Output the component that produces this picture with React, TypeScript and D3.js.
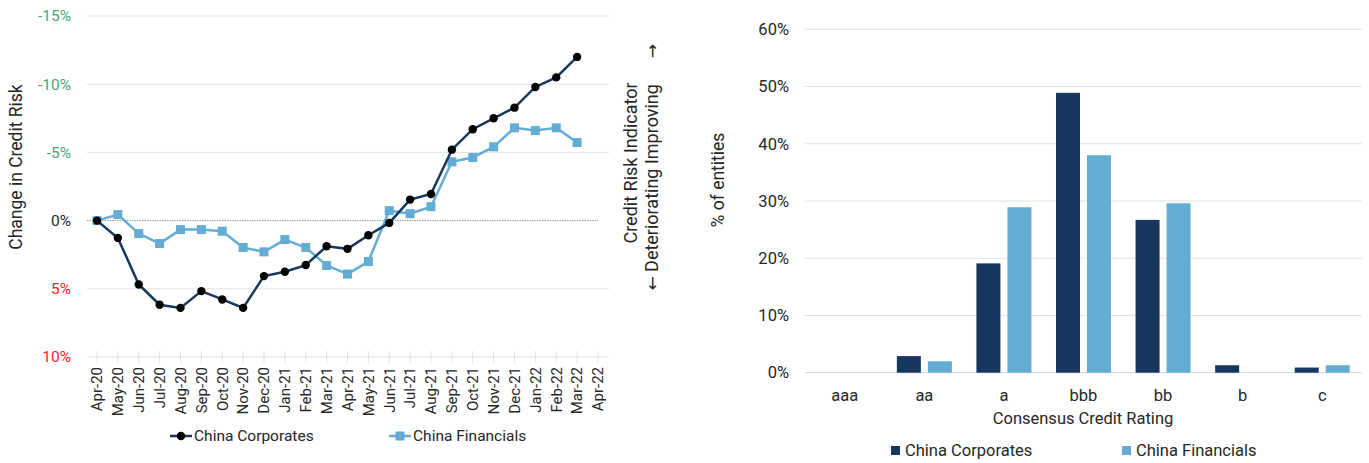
import React from "react";
import * as d3 from "d3";

const months = [
  "Apr-20","May-20","Jun-20","Jul-20","Aug-20","Sep-20","Oct-20","Nov-20","Dec-20",
  "Jan-21","Feb-21","Mar-21","Apr-21","May-21","Jun-21","Jul-21","Aug-21","Sep-21",
  "Oct-21","Nov-21","Dec-21","Jan-22","Feb-22","Mar-22","Apr-22",
];
const corporates = [0, 1.27, 4.68, 6.17, 6.4, 5.17, 5.78, 6.4, 4.07, 3.75, 3.26, 1.88, 2.07, 1.07, 0.17, -1.54, -1.95, -5.2, -6.7, -7.5, -8.28, -9.8, -10.5, -12.0];
const financials = [0, -0.44, 0.95, 1.68, 0.66, 0.66, 0.78, 1.97, 2.29, 1.39, 1.97, 3.29, 3.92, 3.0, -0.73, -0.51, -1.02, -4.31, -4.63, -5.41, -6.8, -6.6, -6.8, -5.72];
const leftTicks = [-15, -10, -5, 0, 5, 10];

const ratings = ["aaa", "aa", "a", "bbb", "bb", "b", "c"];
const corpShare = [0, 2.9, 19.1, 48.9, 26.7, 1.3, 0.9];
const finShare = [0, 2.0, 28.9, 38.0, 29.6, 0, 1.3];
const rightTicks = [0, 10, 20, 30, 40, 50, 60];
const seriesNames = ["China Corporates", "China Financials"];

const NAVY = "#17375e";
const LIGHT = "#63acd4";
const GRID = "#e2e2e2";
const TEXT = "#262626";
const FONT = "Roboto, 'Noto Sans', sans-serif";

export default function App() {
  // Left chart
  const xL = d3.scalePoint<string>().domain(months).range([97, 598]);
  const yL = d3.scaleLinear().domain([-15, 10]).range([16, 357]);
  const lineGen = d3
    .line<number>()
    .x((_, i) => xL(months[i]) as number)
    .y((d) => yL(d));
  const tickColor = (t: number) => (t < 0 ? "#3fa874" : t > 0 ? "#f5222d" : TEXT);
  const pct = (t: number) => `${t}%`;

  // Right chart
  const x0 = d3.scaleBand<string>().domain(ratings).range([805, 1362]).padding(0);
  const groupW = 55;
  const x1 = d3.scaleBand<string>().domain(seriesNames).range([0, groupW]).paddingInner(0.226);
  const yR = d3.scaleLinear().domain([0, 60]).range([372.7, 29.3]);
  const barData = [corpShare, finShare];
  const barColors = [NAVY, LIGHT];

  return (
    <svg
      width={1369}
      height={463}
      style={{ position: "absolute", left: 0, top: 0, background: "#fff" }}
      fontFamily={FONT}
    >
      {/* ---------- LEFT CHART ---------- */}
      <g>
        {leftTicks.map((t) =>
          t === 0 ? null : (
            <line key={t} x1={87} x2={609} y1={yL(t)} y2={yL(t)} stroke={GRID} strokeWidth={1} />
          )
        )}
        <line x1={87} x2={598} y1={yL(0)} y2={yL(0)} stroke="#9a9a9a" strokeWidth={1} strokeDasharray="1.5,1" />
        {months.map((m) => (
          <line key={m} x1={xL(m)} x2={xL(m)} y1={yL(10) - 6} y2={yL(10) + 6} stroke={GRID} strokeWidth={1} />
        ))}
        {leftTicks.map((t) => (
          <text key={t} x={71} y={yL(t)} dy="0.35em" textAnchor="end" fontSize={15.5} fill={tickColor(t)}>
            {pct(t)}
          </text>
        ))}
        {months.map((m) => (
          <text
            key={m}
            transform={`translate(${xL(m)},367) rotate(-90)`}
            dy="0.35em"
            textAnchor="end"
            fontSize={15}
            fill={TEXT}
          >
            {m}
          </text>
        ))}
        <text transform="translate(16,167) rotate(-90)" dy="0.35em" textAnchor="middle" fontSize={17.5} fill={TEXT}>
          Change in Credit Risk
        </text>
        <text transform="translate(631,163) rotate(-90)" dy="0.35em" textAnchor="middle" fontSize={18} fill={TEXT}>
          Credit Risk Indicator
        </text>
        <text transform="translate(652,178) rotate(-90)" dy="0.35em" textAnchor="middle" fontSize={18} fill={TEXT}>
          Deteriorating Improving
        </text>
        <text transform="translate(652,283) rotate(-90)" dy="0.35em" textAnchor="middle" fontSize={17} fontFamily="'DejaVu Sans', sans-serif" fill={TEXT}>
          ←
        </text>
        <text transform="translate(652,51) rotate(-90)" dy="0.35em" textAnchor="middle" fontSize={17} fontFamily="'DejaVu Sans', sans-serif" fill={TEXT}>
          →
        </text>

        <path d={lineGen(financials) || ""} fill="none" stroke={LIGHT} strokeWidth={2.5} />
        {financials.map((v, i) => (
          <rect key={i} x={(xL(months[i]) as number) - 4.5} y={yL(v) - 4.5} width={9} height={9} fill={LIGHT} />
        ))}
        <path d={lineGen(corporates) || ""} fill="none" stroke={NAVY} strokeWidth={2.5} />
        {corporates.map((v, i) => (
          <circle key={i} cx={xL(months[i]) as number} cy={yL(v)} r={4.2} fill="#000" />
        ))}

        {/* legend */}
        <line x1={170} x2={192} y1={436} y2={436} stroke={NAVY} strokeWidth={2.5} />
        <circle cx={181} cy={436} r={4.2} fill="#000" />
        <text x={194} y={436} dy="0.35em" fontSize={15.5} fill={TEXT}>China Corporates</text>
        <line x1={389} x2={411} y1={436} y2={436} stroke={LIGHT} strokeWidth={2.5} />
        <rect x={395.5} y={431.5} width={9} height={9} fill={LIGHT} />
        <text x={413} y={436} dy="0.35em" fontSize={15.5} fill={TEXT}>China Financials</text>
      </g>

      {/* ---------- RIGHT CHART ---------- */}
      <g>
        {rightTicks.map((t) => (
          <line key={t} x1={805} x2={1362} y1={yR(t)} y2={yR(t)} stroke={t === 0 ? "#d6d6d6" : GRID} strokeWidth={1} />
        ))}
        {rightTicks.map((t) => (
          <text key={t} x={789} y={yR(t)} dy="0.35em" textAnchor="end" fontSize={16.5} fill={TEXT}>
            {pct(t)}
          </text>
        ))}
        {ratings.map((r, ci) => {
          const gx = (x0(r) as number) + (x0.bandwidth() - groupW) / 2;
          return (
            <g key={r}>
              {barData.map((series, si) =>
                series[ci] > 0 ? (
                  <rect
                    key={si}
                    x={gx + (x1(seriesNames[si]) as number)}
                    y={yR(series[ci])}
                    width={x1.bandwidth()}
                    height={yR(0) - yR(series[ci])}
                    fill={barColors[si]}
                  />
                ) : null
              )}
              <text x={(x0(r) as number) + x0.bandwidth() / 2} y={395} dy="0.35em" textAnchor="middle" fontSize={16.5} fill={TEXT}>
                {r}
              </text>
            </g>
          );
        })}
        <text x={1083} y={418} dy="0.35em" textAnchor="middle" fontSize={16.5} fill={TEXT}>
          Consensus Credit Rating
        </text>
        <text transform="translate(718,180) rotate(-90)" dy="0.35em" textAnchor="middle" fontSize={17.5} fill={TEXT}>
          % of entities
        </text>
        {/* legend */}
        <rect x={891} y={446} width={9} height={9} fill={NAVY} />
        <text x={905} y={450.5} dy="0.35em" fontSize={16.5} fill={TEXT}>China Corporates</text>
        <rect x={1122} y={446} width={9} height={9} fill={LIGHT} />
        <text x={1136} y={450.5} dy="0.35em" fontSize={16.5} fill={TEXT}>China Financials</text>
      </g>
    </svg>
  );
}
